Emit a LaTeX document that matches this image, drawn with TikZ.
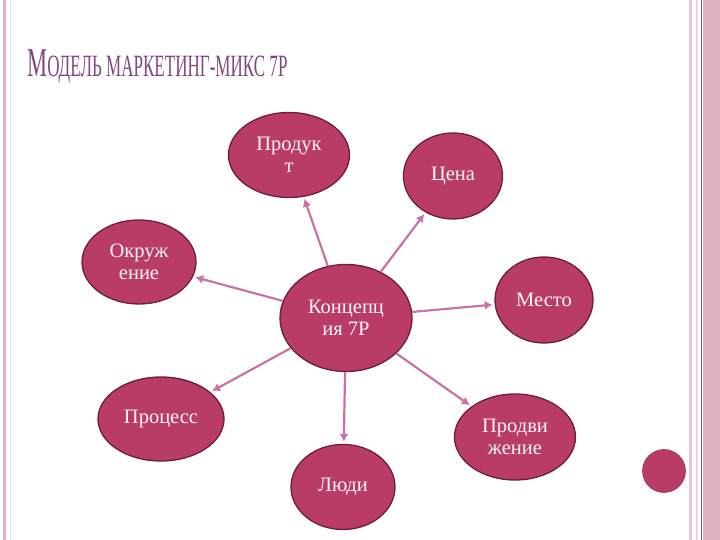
\documentclass[tikz,border=0pt]{standalone}
\usepackage{fontspec}
\setmainfont{Liberation Serif}
\newfontfamily\titlefont[FakeStretch=0.55]{Liberation Serif}
\usepackage{xcolor}
\usetikzlibrary{shapes.geometric, arrows.meta}
\definecolor{berry}{RGB}{185,60,102}
\definecolor{berryEdge}{RGB}{112,28,60}
\definecolor{arrowPink}{RGB}{200,115,165}
\definecolor{titlePlum}{RGB}{130,70,130}
\definecolor{bandPink}{RGB}{222,180,194}
\definecolor{linePlum}{RGB}{150,80,110}
\tikzset{%
>={Latex[width=9pt,length=8pt]},
% Specifications for style of nodes:
base/.style = {ellipse, draw=berryEdge, line width=1.3pt, fill=berry, text={white!95!berry}, inner sep=0pt, align=center, font=\fontsize{20.5}{22}\selectfont},
factor/.style = {base},
core/.style = {base},
dot/.style = {circle, fill=berry, draw=berry!85!black, line width=0.6pt, minimum size=43pt, inner sep=0pt},
link/.style = {->, draw=arrowPink, line width=2.2pt, shorten >=2pt},
}

\begin{document}
\begin{tikzpicture}[x=1pt, y=1pt]
    \useasboundingbox (0,0) rectangle (720,540);
    % Page frame
    \fill [bandPink] (3,0) rectangle (6,540);
    \draw [bandPink!45, line width=1pt] (10,0) -- (10,540);
    \fill [bandPink!75] (689,0) rectangle (692,540);
    \draw [bandPink!60, line width=2pt] (697,0) -- (697,540);
    \draw [linePlum, line width=1.5pt] (701.5,0) -- (701.5,540);
    \fill [bandPink] (703,0) rectangle (720,540);

    % Title
    \node (title) [anchor=base west, inner sep=0pt, text=titlePlum] at (27,463)
        {\titlefont\fontsize{41}{41}\selectfont М\fontsize{31}{31}\selectfont ОДЕЛЬ МАРКЕТИНГ-МИКС 7P};

    % Specification of nodes (position, etc.)
    \node (concept) [core, minimum width=132pt, minimum height=107pt] at (346,222) {Концепц\\ия 7P};
    \node (product) [factor, minimum width=121pt, minimum height=85pt] at (289,385) {Продук\\т};
    \node (price) [factor, minimum width=99pt, minimum height=86pt] at (453,364) {Цена};
    \node (environment) [factor, minimum width=114pt, minimum height=84pt] at (139,278) {Окруж\\ение};
    \node (place) [factor, minimum width=98pt, minimum height=86pt] at (544,240) {Место};
    \node (process) [factor, minimum width=126pt, minimum height=84pt] at (161,121) {Процесс};
    \node (promotion) [factor, minimum width=121pt, minimum height=86pt] at (515,103) {Продви\\жение};
    \node (people) [factor, minimum width=104pt, minimum height=85pt] at (343,53) {Люди};
    \node (corner) [dot] at (664,69) {};

    \draw [link] (concept) -- (product);
    \draw [link] (concept) -- (price);
    \draw [link] (concept) -- (environment);
    \draw [link] (concept) -- (place);
    \draw [link] (concept) -- (process);
    \draw [link] (concept) -- (promotion);
    \draw [link] (concept) -- (people);
\end{tikzpicture}
\end{document}
